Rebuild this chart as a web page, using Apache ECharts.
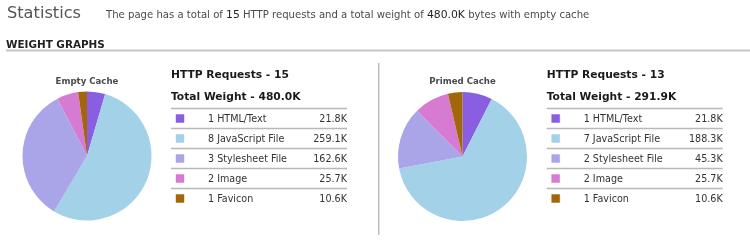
<!DOCTYPE html>
<html><head><meta charset="utf-8">
<script src="https://cdn.jsdelivr.net/npm/echarts@6/dist/echarts.min.js"></script>
<style>html,body{margin:0;padding:0;background:#fff;overflow:hidden}#c{width:750px;height:241px}</style>
</head><body><div id="c"></div>
<script>
// ---- data ----
const categories = ['HTML/Text', 'JavaScript File', 'Stylesheet File', 'Image', 'Favicon'];
const emptyCounts = [1, 8, 3, 2, 1];
const emptyWeights = [21.8, 259.1, 162.6, 25.7, 10.6];
const primedCounts = [1, 7, 2, 2, 1];
const primedWeights = [21.8, 188.3, 45.3, 25.7, 10.6];
const emptyTotalRequests = 15, emptyTotalWeight = 480.0;
const primedTotalRequests = 13, primedTotalWeight = 291.9;
const pieTitles = ['Empty Cache', 'Primed Cache'];

// ---- style ----
const colors = ['#8a5ee0', '#a3d1e8', '#aaa5e9', '#d67bd1', '#a2660b'];
const FONT = '"DejaVu Sans", Verdana, sans-serif';

const chart = echarts.init(document.getElementById('c'), null, {renderer: 'canvas'});

function pieSeries(weights, center) {
  return {
    type: 'pie', center: center, radius: 64.5, startAngle: 90, clockwise: true,
    silent: true, animation: false, label: {show: false}, labelLine: {show: false},
    itemStyle: {borderWidth: 0},
    data: categories.map((c, i) => ({name: c, value: weights[i], itemStyle: {color: colors[i]}}))
  };
}

function text(x, y, str, size, opts) {
  opts = opts || {};
  return {
    type: 'text', x: x, y: y, silent: true,
    style: Object.assign({
      text: str, fontSize: size, fontFamily: FONT, fontWeight: opts.weight || 'normal',
      fill: opts.fill || '#333', align: opts.align || 'left', verticalAlign: 'middle'
    }, opts.style || {})
  };
}

function table(x0, x1, counts, weights, totalReq, totalW) {
  const els = [];
  els.push(text(x0, 75, 'HTTP Requests - ' + totalReq, 10.7, {weight: 'bold', fill: '#1a1a1a'}));
  els.push(text(x0, 97, 'Total Weight - ' + totalW.toFixed(1) + 'K', 10.7, {weight: 'bold', fill: '#1a1a1a'}));
  categories.forEach((c, i) => {
    const ly = 108.5 + i * 20;
    els.push({type: 'line', silent: true, shape: {x1: x0, y1: ly, x2: x1, y2: ly},
      style: {stroke: '#b8b8b8', lineWidth: 1.5}});
    const cy = ly + 10.5;
    els.push({type: 'rect', silent: true, shape: {x: x0 + 5, y: cy - 4.5, width: 8, height: 8},
      style: {fill: colors[i], stroke: colors[i], lineWidth: 1, opacity: 1, strokeOpacity: 0.45}});
    els.push(text(x0 + 37, cy, counts[i] + ' ' + c, 9.6, {fill: '#333'}));
    els.push(text(x1, cy, weights[i].toFixed(1) + 'K', 9.6, {fill: '#333', align: 'right'}));
  });
  return els;
}

const graphic = [
  text(7, 13.5, 'Statistics', 16.2, {fill: '#555'}),
  {
    type: 'text', x: 106, y: 15, silent: true,
    style: {
      text: 'The page has a total of {b|' + emptyTotalRequests + '} HTTP requests and a total weight of {b|' +
        emptyTotalWeight.toFixed(1) + 'K} bytes with empty cache',
      fontSize: 10.1, fontFamily: FONT, fill: '#4a4a4a', align: 'left', verticalAlign: 'middle',
      rich: {b: {fontSize: 10.8, fontFamily: FONT, fill: '#1e1e1e'}}
    }
  },
  text(6, 45.5, 'WEIGHT GRAPHS', 10.4, {weight: 'bold', fill: '#222'}),
  {type: 'line', silent: true, shape: {x1: 6, y1: 50.5, x2: 750, y2: 50.5}, style: {stroke: '#c6c6c6', lineWidth: 2}},
  {type: 'line', silent: true, shape: {x1: 378.7, y1: 63, x2: 378.7, y2: 235}, style: {stroke: '#bdbdbd', lineWidth: 1.5}},
  text(87, 82, pieTitles[0], 8.6, {weight: 'bold', fill: '#4a4a4a', align: 'center'}),
  text(462.5, 82, pieTitles[1], 8.6, {weight: 'bold', fill: '#4a4a4a', align: 'center'})
].concat(
  table(171, 347, emptyCounts, emptyWeights, emptyTotalRequests, emptyTotalWeight),
  table(546.7, 722.7, primedCounts, primedWeights, primedTotalRequests, primedTotalWeight)
);

chart.setOption({
  animation: false,
  backgroundColor: '#fff',
  series: [pieSeries(emptyWeights, [87, 156]), pieSeries(primedWeights, [462.5, 156.5])],
  graphic: graphic
});
</script>
</body></html>
